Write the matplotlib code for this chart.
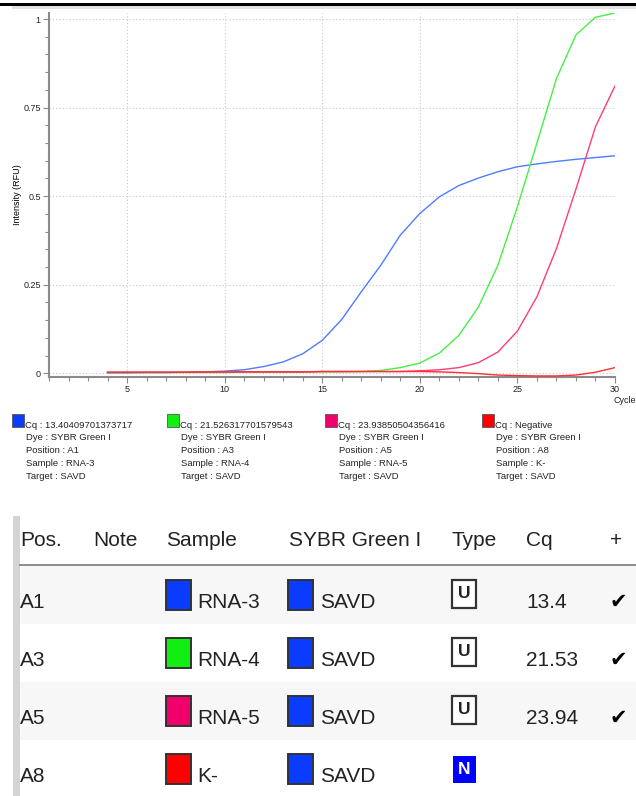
import matplotlib
matplotlib.use("Agg")
import matplotlib.pyplot as plt
from matplotlib.patches import Rectangle
from matplotlib.ticker import MultipleLocator, FuncFormatter

plt.rcParams['font.family'] = ['Liberation Sans', 'DejaVu Sans']

# amplification curves, one reading per cycle
cycles = list(range(4, 31))
rfu_rna3 = [0.001, 0.001, 0.002, 0.002, 0.003, 0.004, 0.006, 0.010, 0.019, 0.032,
            0.055, 0.093, 0.152, 0.230, 0.305, 0.390, 0.451, 0.498, 0.530, 0.551,
            0.569, 0.583, 0.591, 0.598, 0.604, 0.609, 0.614]
rfu_rna4 = [0.002, 0.002, 0.002, 0.002, 0.002, 0.002, 0.002, 0.003, 0.003, 0.003,
            0.003, 0.004, 0.004, 0.005, 0.008, 0.016, 0.029, 0.057, 0.107, 0.187,
            0.305, 0.470, 0.650, 0.832, 0.955, 1.005, 1.017]
rfu_rna5 = [0.003, 0.003, 0.003, 0.003, 0.003, 0.003, 0.004, 0.004, 0.004, 0.004,
            0.004, 0.005, 0.005, 0.005, 0.005, 0.005, 0.007, 0.010, 0.016, 0.030,
            0.060, 0.119, 0.216, 0.352, 0.520, 0.696, 0.811]
rfu_neg = [0.003, 0.003, 0.003, 0.003, 0.003, 0.004, 0.004, 0.004, 0.004, 0.004,
           0.004, 0.005, 0.005, 0.005, 0.005, 0.005, 0.005, 0.004, 0.002, -0.001,
           -0.005, -0.0065, -0.0075, -0.0075, -0.005, 0.003, 0.016]

# well info
positions = ["A1", "A3", "A5", "A8"]
samples = ["RNA-3", "RNA-4", "RNA-5", "K-"]
cq_values = [13.40409701373717, 21.526317701579543, 23.93850504356416, None]
well_types = ["U", "U", "U", "N"]
dye = "SYBR Green I"
target = "SAVD"

curve_colors = ["#4d7cff", "#45f045", "#ff3a80", "#ff3030"]
swatch_colors = ["#0a3cff", "#11ee11", "#f0006a", "#ff0000"]

W, H = 636, 796
fig = plt.figure(figsize=(W / 100, H / 100), dpi=100)


def box(x0, y0, x1, y1):
    # pixel box (top-left origin) -> figure fraction [l, b, w, h]
    return [x0 / W, 1 - y1 / H, (x1 - x0) / W, (y1 - y0) / H]


# ---- chart ----
ax = fig.add_axes(box(49, 13, 615, 377))
for y, c in zip([rfu_rna3, rfu_rna4, rfu_rna5, rfu_neg], curve_colors):
    ax.plot(cycles, y, color=c, lw=1.0, zorder=3)

ax.set_xlim(1, 30)
ax.set_ylim(-0.0105, 1.017)
ax.xaxis.set_major_locator(MultipleLocator(5))
ax.xaxis.set_minor_locator(MultipleLocator(1))
ax.yaxis.set_major_locator(MultipleLocator(0.25))
ax.yaxis.set_minor_locator(MultipleLocator(0.05))
ax.yaxis.set_major_formatter(FuncFormatter(lambda v, p: f"{v:g}"))
ax.grid(True, which='major', ls=(0, (1, 2)), color='#c8c8c8', lw=0.8)
for s in ['top', 'right']:
    ax.spines[s].set_visible(False)
for s in ['left', 'bottom']:
    ax.spines[s].set_color('#8a8a8a')
    ax.spines[s].set_linewidth(1.5)
ax.tick_params(which='both', colors='#8a8a8a', labelcolor='#222222', labelsize=6.5, width=0.8)
ax.tick_params(which='major', length=4, pad=2)
ax.tick_params(which='minor', length=3)
ax.set_ylabel("Intensity (RFU)", fontsize=6.5, labelpad=0.5)

# ---- overlay in pixel coordinates ----
ov = fig.add_axes([0, 0, 1, 1])
ov.set_xlim(0, W)
ov.set_ylim(H, 0)
ov.axis('off')
ov.patch.set_visible(False)

ov.add_patch(Rectangle((0, 3), W, 3, color='black', lw=0))
ov.add_patch(Rectangle((12, 6), W - 12, 3, color='#e2e2e2', lw=0))
ov.text(614, 400.5, "Cycle", fontsize=6.5, va='center', ha='left', color='#222222')

# legend blocks under the chart
leg_x = [12, 167, 325, 482]
for i in range(4):
    x = leg_x[i]
    ov.add_patch(Rectangle((x, 414), 12, 13, facecolor=swatch_colors[i],
                           edgecolor='#555555', lw=0.6))
    cq = "Negative" if cq_values[i] is None else repr(cq_values[i])
    lines = ["Cq : " + cq, "Dye : " + dye, "Position : " + positions[i],
             "Sample : " + samples[i], "Target : " + target]
    for j, t in enumerate(lines):
        ov.text(x + 13 + (0 if j == 0 else 1), 425 + j * 12.8, t, fontsize=6.8,
                va='center', ha='left', color='#222222')

# ---- results table ----
fs = 15
ov.add_patch(Rectangle((13, 516), 7, H - 516, color='#d4d4d4', lw=0))
hdr_y = 541
headers = [("Pos.", 20), ("Note", 93), ("Sample", 166), ("SYBR Green I", 289),
           ("Type", 452), ("Cq", 526), ("+", 610)]
for t, x in headers:
    ov.text(x, hdr_y, t, fontsize=fs, va='center', ha='left', color='#222222')
ov.plot([20, W], [565, 565], color='#777777', lw=1.2)

row_h = 58
for i in range(4):
    top = 566 + i * row_h
    cy = top + 36
    if i % 2 == 0:
        ov.add_patch(Rectangle((20, top), W - 20, row_h, color='#f7f7f7', lw=0, zorder=0))
    ov.text(20, cy, positions[i], fontsize=fs, va='center', ha='left', color='#222222')
    ov.add_patch(Rectangle((166, cy - 22), 25, 30, facecolor=swatch_colors[i],
                           edgecolor='#333333', lw=1.4))
    ov.text(197, cy, samples[i], fontsize=fs, va='center', ha='left', color='#222222')
    ov.add_patch(Rectangle((288, cy - 22), 25, 30, facecolor=swatch_colors[0],
                           edgecolor='#333333', lw=1.4))
    ov.text(320, cy, target, fontsize=fs, va='center', ha='left', color='#222222')
    if well_types[i] == "U":
        ov.add_patch(Rectangle((452, cy - 22), 24, 28, facecolor='white',
                               edgecolor='#333333', lw=1.6))
        ov.text(464, cy - 8, "U", fontsize=12.5, fontweight='bold', va='center',
                ha='center', color='#222222')
    else:
        ov.add_patch(Rectangle((453, cy - 20), 23, 27, facecolor='#0000ff', lw=0))
        ov.text(464.5, cy - 6.5, "N", fontsize=12.5, fontweight='bold', va='center',
                ha='center', color='white')
    if cq_values[i] is not None:
        ov.text(526, cy, f"{round(cq_values[i], 2):g}", fontsize=fs, va='center',
                ha='left', color='#222222')
        ov.text(618, cy, "\u2714", fontsize=15, va='center', ha='center',
                color='black', family=['DejaVu Sans'])

fig.savefig("out.png", dpi=100)
